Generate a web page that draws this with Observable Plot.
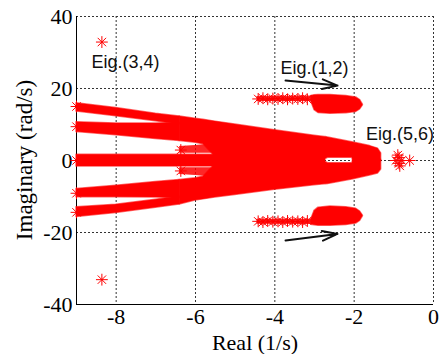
<!DOCTYPE html>
<html><head><meta charset="utf-8">
<script src="https://cdn.jsdelivr.net/npm/d3@7"></script>
<script src="https://cdn.jsdelivr.net/npm/@observablehq/plot@0.6"></script>
<style>body{margin:0;background:#fff}</style>
</head><body><div id="chart"></div>
<script>
// Axis ticks
const xTicks = [-8, -6, -4, -2, 0];
const yTicks = [40, 20, 0, -20, -40];

// Dense eigenvalue cloud, band edges
const bandAX = [-9, -8, -7, -6.4];
const bandATop = [15.9, 14.6, 13.0, 12.2];
const bandABot = [13.6, 12.3, 10.9, 10.0];
const bandBX = [-9, -8, -7, -6.4];
const bandBTop = [10.6, 10.3, 10.3, 10.4];
const bandBBot = [7.9, 7.0, 6.0, 5.4];
const bandDX = [-9, -8, -7, -6.4];
const bandDTop = [-7.9, -7.0, -6.0, -5.4];
const bandDBot = [-10.2, -10.2, -10.3, -10.4];
const bandEX = [-9, -8, -7, -6.4];
const bandETop = [-13.0, -12.3, -10.9, -10.0];
const bandEBot = [-15.7, -14.6, -13.1, -12.2];
const centerX = [-9, -7, -5, -2.74];
const centerTop = [1.6, 1.6, 1.6, 1.6];
const centerBot = [-1.7, -1.7, -1.7, -1.7];
const subX = [-6.4, -6.0, -5.6];
const subUpTop = [3.9, 4.2, 4.6];
const subUpBot = [2.0, 2.0, 2.0];
const subLoTop = [-2.0, -2.0, -2.0];
const subLoBot = [-3.9, -4.2, -4.6];
const bodyX = [-6.4, -6.0, -5.8, -5.5, -5.0, -4.0, -3.0, -2.74, -2.72, -2.66, -2.05, -2.02, -1.6, -1.4, -1.32];
const bodyTop = [12.2, 11.6, 11.3, 10.8, 10.0, 8.4, 6.9, 6.5, 6.5, 6.4, 5.1, 5.0, 4.0, 3.3, 2.0];
const bodyInnerUp = [5.4, 4.9, 4.5, 1.0, -0.2, -0.2, -0.2, -0.2, 0.4, 0.75, 0.75, -0.2, -0.2, -0.2, -0.2];
const bodyInnerLo = [-5.4, -4.9, -4.5, -1.0, 0.2, 0.2, 0.2, 0.2, -0.4, -0.75, -0.75, 0.2, 0.2, 0.2, 0.2];
const bodyBot = [-12.2, -11.1, -10.8, -10.3, -9.6, -8.1, -6.9, -6.6, -6.6, -6.5, -5.3, -5.2, -4.2, -3.6, -2.5];

// Eig.(1,2): asterisk streaks and dense blobs
const streakX = [-4.45, -3.05];
const streakUpTop = [17.8, 17.9];
const streakUpBot = [16.4, 16.4];
const streakLoTop = [-16.3, -16.3];
const streakLoBot = [-17.7, -17.8];
const blobX = [-3.08, -3.0, -2.9, -2.6, -2.2, -1.95, -1.85, -1.78];
const blobUpTop = [17.9, 18.1, 18.2, 18.2, 17.9, 17.5, 16.8, 15.5];
const blobUpBot = [16.3, 14.0, 13.2, 13.0, 13.1, 13.5, 14.2, 15.3];
const blobLoTop = [-16.3, -14.0, -13.1, -12.8, -13.0, -13.4, -14.2, -15.3];
const blobLoBot = [-17.8, -18.0, -18.1, -18.1, -17.9, -17.5, -16.8, -15.5];

// Individual asterisk markers
const starX = [-8.36, -8.36,
  -9.0, -9.0, -9.0, -9.0, -9.0,
  -6.37, -6.37,
  -4.42, -4.30, -4.18, -4.05, -3.92, -3.80, -3.68, -3.55, -3.42, -3.30, -3.18,
  -4.42, -4.30, -4.18, -4.05, -3.92, -3.80, -3.68, -3.55, -3.42, -3.30, -3.18,
  -0.87, -0.87, -0.90, -0.85, -0.95, -0.80, -0.60];
const starY = [32.9, -33.1,
  15.0, 9.4, 0, -9.1, -14.4,
  2.9, -2.9,
  17.1, 17.3, 17.0, 17.2, 17.1, 17.3, 17.0, 17.2, 17.1, 17.3, 17.0,
  -16.9, -17.1, -16.8, -17.0, -16.9, -17.1, -16.8, -17.0, -16.9, -17.1, -16.8,
  0.8, -0.8, 1.5, -1.5, 0, 0, 0];

// Annotations
const noteText = ["Eig.(3,4)", "Eig.(1,2)", "Eig.(5,6)"];
const noteX = [-8.62, -3.86, -1.70];
const noteY = [27.2, 25.5, 7.4];
const arrowX1 = [-3.73, -3.73];
const arrowY1 = [22.2, -22.2];
const arrowX2 = [-2.42, -2.42];
const arrowY2 = [20.8, -20.4];
const xLabel = "Real (1/s)";
const yLabel = "Imaginary (rad/s)";

const zipArea = (xs, lo, hi) => xs.map((x, i) => ({x, y1: lo[i], y2: hi[i]}));
const solidAreas = [
  zipArea(bandAX, bandABot, bandATop),
  zipArea(bandBX, bandBBot, bandBTop),
  zipArea(bandDX, bandDBot, bandDTop),
  zipArea(bandEX, bandEBot, bandETop),
  zipArea(centerX, centerBot, centerTop),
  zipArea(bodyX, bodyInnerUp, bodyTop),
  zipArea(bodyX, bodyBot, bodyInnerLo),
  zipArea(blobX, blobUpBot, blobUpTop),
  zipArea(blobX, blobLoBot, blobLoTop)
];
const lightAreas = [
  zipArea(subX, subUpBot, subUpTop),
  zipArea(subX, subLoBot, subLoTop),
  zipArea(streakX, streakUpBot, streakUpTop),
  zipArea(streakX, streakLoBot, streakLoTop)
];
const stars = starX.map((x, i) => ({x, y: starY[i]}));
const notes = noteText.map((t, i) => ({t, x: noteX[i], y: noteY[i]}));
const arrows = arrowX1.map((x1, i) => ({x1, y1: arrowY1[i], x2: arrowX2[i], y2: arrowY2[i]}));

const red = "#ff0000";
const serif = "'Liberation Serif', 'Times New Roman', serif";
const chart = Plot.plot({
  width: 442, height: 354,
  marginLeft: 76, marginRight: 9, marginTop: 16, marginBottom: 50,
  style: {fontFamily: serif, fontSize: "22px", background: "#fff", color: "#000"},
  x: {domain: [-9, 0], label: null, axis: null},
  y: {domain: [-40, 40], label: null, axis: null},
  marks: [
    Plot.ruleX(xTicks, {stroke: "#333", strokeDasharray: "2,2", strokeWidth: 1}),
    Plot.ruleY(yTicks.filter(d => d > -40), {stroke: "#333", strokeDasharray: "2,2", strokeWidth: 1}),
    Plot.ruleX([-9], {stroke: "#000", strokeWidth: 1}),
    Plot.ruleY([-40], {stroke: "#000", strokeWidth: 1}),
    Plot.axisX(xTicks, {tickSize: 0, tickPadding: 4, tickFormat: d => String(d), fontSize: 22, fontFamily: serif, label: null}),
    Plot.axisY(yTicks, {tickSize: 0, tickPadding: 4, tickFormat: d => String(d), fontSize: 22, fontFamily: serif, label: null}),
    ...solidAreas.map(a => Plot.areaY(a, {x: "x", y1: "y1", y2: "y2", fill: red, stroke: red, strokeWidth: 1.5, strokeOpacity: 0.6})),
    ...lightAreas.map(a => Plot.areaY(a, {x: "x", y1: "y1", y2: "y2", fill: red, fillOpacity: 0.85})),
    Plot.dot(stars, {x: "x", y: "y", symbol: "plus", r: 3.9, stroke: red, strokeWidth: 1}),
    Plot.dot(stars, {x: "x", y: "y", symbol: "times", r: 3.9, stroke: red, strokeWidth: 1}),
    Plot.arrow(arrows, {x1: "x1", y1: "y1", x2: "x2", y2: "y2", stroke: "#111", strokeWidth: 2, headAngle: 35, headLength: 12}),
    Plot.text(notes, {x: "x", y: "y", text: "t", textAnchor: "start", lineAnchor: "middle", fontFamily: "'Liberation Sans', Arial, sans-serif", fontSize: 18, fill: "#111"}),
    Plot.text([xLabel], {text: d => d, frameAnchor: "bottom", dy: 38, textAnchor: "middle", lineAnchor: "middle", fontSize: 22, fontFamily: serif}),
    Plot.text([yLabel], {text: d => d, frameAnchor: "left", rotate: -90, textAnchor: "middle", lineAnchor: "middle", fontSize: 23, fontFamily: serif})
  ]
});
document.getElementById("chart").appendChild(chart);
// Pin the rotated y-axis title: centred on the frame's vertical middle, 51px left of the frame
d3.select(chart).selectAll("text").filter(function () { return this.textContent === yLabel; })
  .attr("text-anchor", "middle")
  .attr("transform", `translate(${76 - 51},${(16 + 354 - 50) / 2}) rotate(-90)`)
  .each(function () { d3.select(this.parentNode).attr("transform", null); });
</script>
</body></html>
